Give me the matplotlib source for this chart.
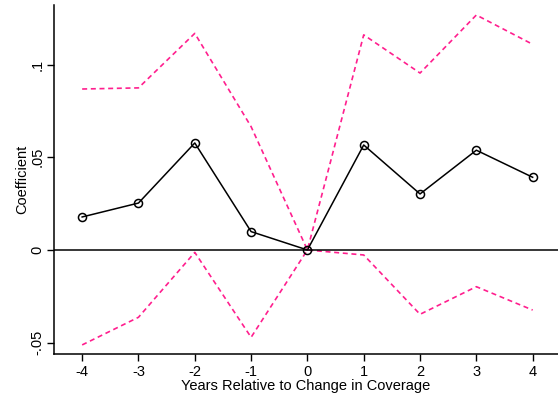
import matplotlib
matplotlib.use("Agg")
import matplotlib.pyplot as plt

plt.rcParams['font.family'] = ['Liberation Sans', 'DejaVu Sans']

# event-time coefficients with 95% confidence bounds
years = [-4, -3, -2, -1, 0, 1, 2, 3, 4]
coef = [0.0178, 0.0253, 0.0577, 0.0099, 0.0, 0.0566, 0.0302, 0.0538, 0.0392]
ci_upper = [0.0868, 0.0874, 0.1168, 0.0665, 0.0, 0.1160, 0.0954, 0.1267, 0.1109]
ci_lower = [-0.0512, -0.0363, -0.0013, -0.0471, 0.0, -0.0027, -0.0347, -0.0198, -0.0324]

yticks = [-0.05, 0, 0.05, 0.1]
ytick_labels = ['-.05', '0', '.05', '.1']

fig = plt.figure(figsize=(5.58, 3.98), dpi=100)
ax = fig.add_axes([54 / 558, 1 - 354 / 398, 1 - 54 / 558, (354 - 5) / 398])

pink = '#ff1f8e'
ax.plot(years, ci_upper, color=pink, lw=1.2, dashes=(3, 2.2))
ax.plot(years, ci_lower, color=pink, lw=1.2, dashes=(3, 2.2))
ax.axhline(0, color='black', lw=1.1)
ax.plot(years, coef, color='black', lw=1.1, marker='o', ms=5.8,
        mfc='none', mec='black', mew=1.1)

ax.set_xlim(-4.5, 4.45)
ax.set_ylim(-0.0561, 0.1321)
ax.set_xticks(years)
ax.set_xticklabels([str(y) for y in years])
ax.set_yticks(yticks)
ax.set_yticklabels(ytick_labels, rotation=90, va='center')

ax.spines['top'].set_visible(False)
ax.spines['right'].set_visible(False)
for s in ['left', 'bottom']:
    ax.spines[s].set_linewidth(1.1)
ax.tick_params(labelsize=10.5, length=5, width=1.0, pad=3)
ax.tick_params(axis='y', pad=2)

ax.set_xlabel('Years Relative to Change in Coverage', fontsize=10.5, labelpad=0)
ax.set_ylabel('Coefficient', fontsize=10.5, labelpad=1)

fig.savefig('out.png', dpi=100)
